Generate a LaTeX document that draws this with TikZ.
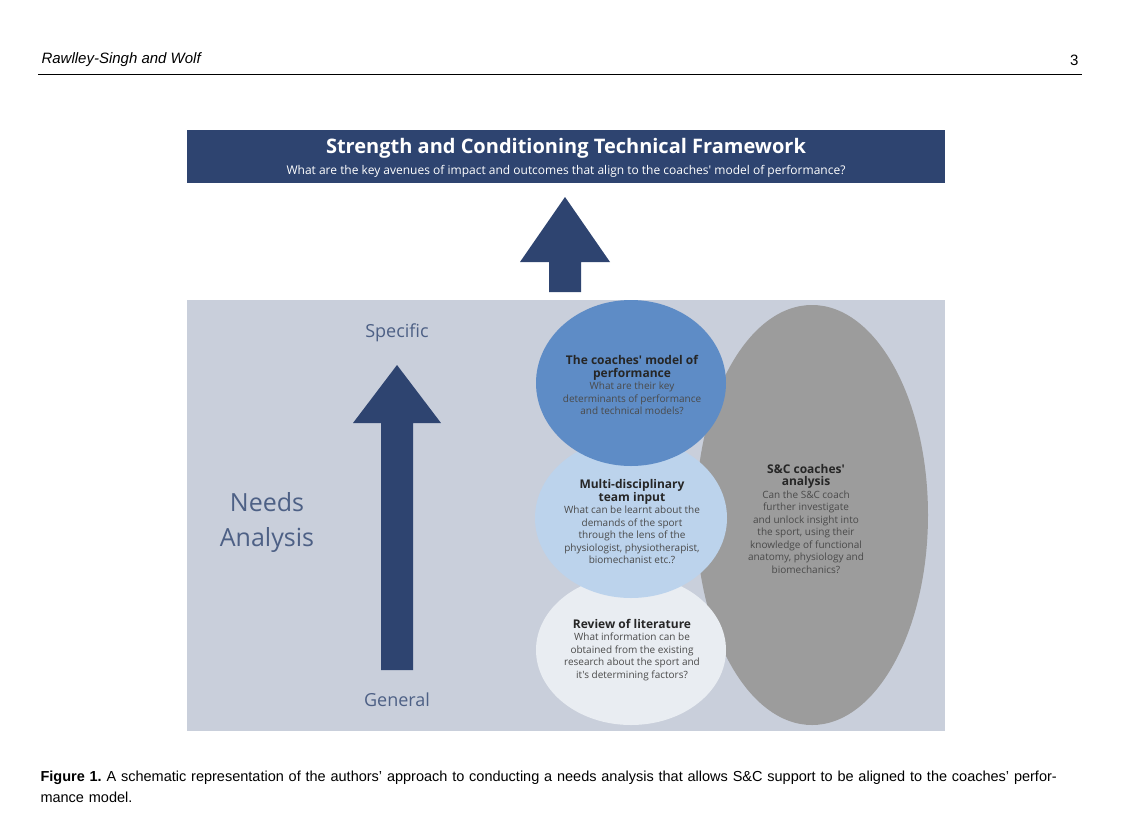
\documentclass[tikz,border=0pt]{standalone}
\usepackage{fontspec}
\setmainfont{Liberation Sans}
\newfontfamily\os{Open Sans}
\usetikzlibrary{shapes.geometric}
\definecolor{navy}{HTML}{2E4470}
\definecolor{panel}{HTML}{C9CFDB}
\definecolor{ellgray}{HTML}{9C9C9C}
\definecolor{ellblue}{HTML}{5E8CC6}
\definecolor{elllb}{HTML}{BCD3EC}
\definecolor{ellw}{HTML}{E9EDF2}
\definecolor{txtg}{HTML}{4A4A4A}
\newcommand{\myb}[1]{{\bfseries\fontsize{12}{15}\selectfont\color{black!85}#1}}
\begin{document}
\begin{tikzpicture}[x=1pt,y=-1pt,
  ell/.style={ellipse,draw=none,inner sep=0},
  etxt/.style={align=center,font=\os\fontsize{10}{12.5}\selectfont,text=txtg},
  uparrow/.style={fill=navy,draw=none}]
\useasboundingbox (0,0) rectangle (1125,839);
\fill[white] (0,0) rectangle (1125,839);
\node[anchor=west,font=\itshape\fontsize{15}{18}\selectfont] (auth) at (38,60) {Rawlley-Singh and Wolf};
\node[anchor=east,font=\fontsize{15}{18}\selectfont] (pg) at (1082,60) {3};
\draw[line width=0.8] (38,74) -- (1082,74);
% title
\fill[navy] (187,130) rectangle (945,183);
\node[text=white,font=\os\bfseries\fontsize{20}{24}\selectfont] (title) at (566,148) {Strength and Conditioning Technical Framework};
\node[text=white,font=\os\fontsize{12}{14}\selectfont] (sub) at (566,171) {What are the key avenues of impact and outcomes that align to the coaches' model of performance?};
% top arrow
\fill[navy] (565,197) -- (610,262) -- (581,262) -- (581,292) -- (549,292) -- (549,262) -- (520,262) -- cycle;
% panel
\fill[panel] (187,300) rectangle (945,731);
\node[text=navy!85,font=\os\fontsize{18}{22}\selectfont] (spec) at (397,333) {Specific};
\node[text=navy!85,font=\os\fontsize{18}{22}\selectfont] (gen) at (397,700) {General};
\node[text=navy!85,align=center,font=\os\fontsize{25}{35}\selectfont] (na) at (267,522) {Needs\\Analysis};
\fill[navy] (397,365) -- (441,423) -- (413,423) -- (413,670) -- (381,670) -- (381,423) -- (353,423) -- cycle;
% ellipses
\node[ell,fill=ellgray,minimum width=232,minimum height=420] (sc) at (812,515) {};
\node[ell,fill=ellw,minimum width=190,minimum height=150] (lit) at (631,650) {};
\node[ell,fill=elllb,minimum width=192,minimum height=160] (mdt) at (631,518) {};
\node[ell,fill=ellblue,minimum width=190,minimum height=166] (cm) at (631,383) {};
\node[etxt] (sct) at (806,519) {\myb{S\&C coaches'}\\\myb{analysis}\\Can the S\&C coach\\further investigate\\and unlock insight into\\the sport, using their\\knowledge of functional\\anatomy, physiology and\\biomechanics?};
\node[etxt] (cmt) at (632,385) {\myb{The coaches' model of}\\\myb{performance}\\What are their key\\determinants of performance\\and technical models?};
\node[etxt] (mdtt) at (632,522) {\myb{Multi-disciplinary}\\\myb{team input}\\What can be learnt about the\\demands of the sport\\through the lens of the\\physiologist, physiotherapist,\\biomechanist etc.?};
\node[etxt] (litt) at (632,650) {\myb{Review of literature}\\What information can be\\obtained from the existing\\research about the sport and\\it's determining factors?};
% caption
\node[anchor=north west,align=left,text width=1050,font=\fontsize{14.5}{21}\selectfont] (cap) at (37,767) {\textbf{Figure 1.}\ A schematic representation of the authors' approach to conducting a needs analysis that allows S\&C support to be aligned to the coaches' performance model.};
\end{tikzpicture}
\end{document}
